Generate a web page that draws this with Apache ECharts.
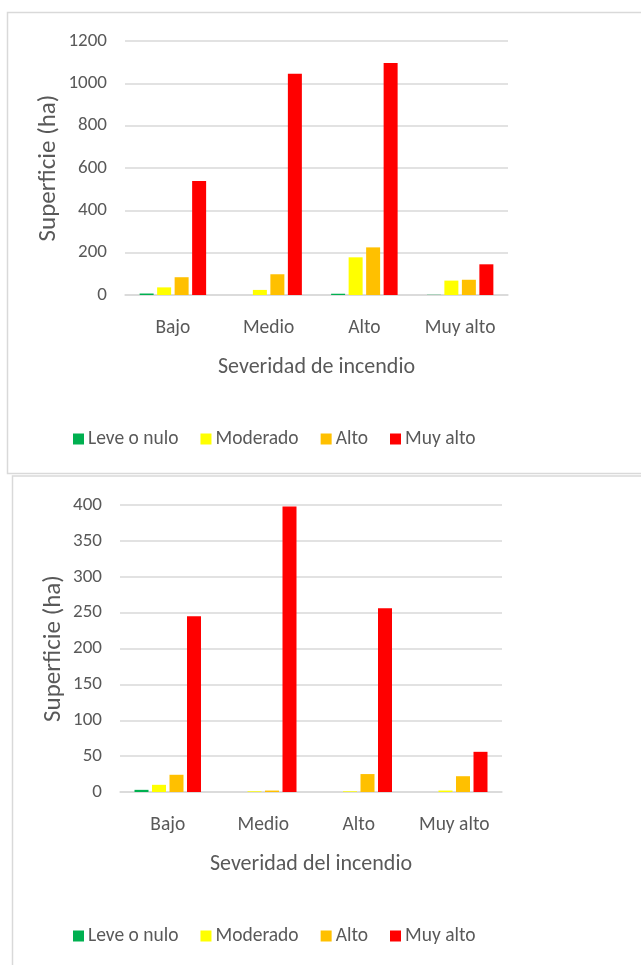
<!DOCTYPE html>
<html>
<head>
<meta charset="utf-8">
<script src="https://cdn.jsdelivr.net/npm/echarts@6/dist/echarts.min.js"></script>
<style>
  html, body { margin: 0; padding: 0; background: #ffffff; }
  #chart { width: 641px; height: 965px; }
</style>
</head>
<body>
<div id="chart"></div>
<script>
// Burned area (ha) by terrain class and fire severity
const categories = ['Bajo', 'Medio', 'Alto', 'Muy alto'];
const severityNames = ['Leve o nulo', 'Moderado', 'Alto', 'Muy alto'];
const severityColors = ['#00B050', '#FFFF00', '#FFC000', '#FF0000'];

// upper chart
const topLeve = [7, 0, 6, 1];
const topModerado = [36, 24, 178, 68];
const topAlto = [84, 98, 225, 72];
const topMuyAlto = [538, 1045, 1096, 145];
const topTicks = { min: 0, max: 1200, interval: 200 };
const topXTitle = 'Severidad de incendio';

// lower chart
const botLeve = [3, 0, 0, 0];
const botModerado = [10, 1, 1, 2];
const botAlto = [24, 2, 25, 22];
const botMuyAlto = [245, 398, 256, 56];
const botTicks = { min: 0, max: 400, interval: 50 };
const botXTitle = 'Severidad del incendio';

const yTitle = 'Superficie (ha)';

const FONT = 'Carlito, "Liberation Sans Narrow", "Open Sans", sans-serif';
const TEXT = '#595959';
const GRID = '#D9D9D9';

function xAxisFor(gridIndex, title) {
  return {
    type: 'category', gridIndex, data: categories,
    axisLine: { show: true, lineStyle: { color: GRID, width: 1.5 } },
    axisTick: { show: false },
    axisLabel: { color: TEXT, fontSize: 19.5, fontFamily: FONT, margin: 23 },
    name: title, nameLocation: 'middle', nameGap: 61, nameMoveOverlap: false,
    nameTextStyle: { color: TEXT, fontSize: 22, fontFamily: FONT }
  };
}
function yAxisFor(gridIndex, ticks, gap) {
  return {
    type: 'value', gridIndex, min: ticks.min, max: ticks.max, interval: ticks.interval,
    axisLine: { show: false }, axisTick: { show: false },
    splitLine: { lineStyle: { color: GRID, width: 1.5 } },
    axisLabel: { color: TEXT, fontSize: 19, fontFamily: FONT, margin: 18,
                 formatter: v => String(v) },
    name: yTitle, nameLocation: 'middle', nameGap: gap, nameRotate: 90,
    nameMoveOverlap: false,
    nameTextStyle: { color: TEXT, fontSize: 25, fontFamily: FONT }
  };
}
function barsFor(idx, sets) {
  return sets.map((vals, i) => ({
    type: 'bar', name: severityNames[i], xAxisIndex: idx, yAxisIndex: idx,
    data: vals, barWidth: 14, barGap: '25%',
    itemStyle: { color: severityColors[i] },
    emphasis: { disabled: true }
  }));
}
function legendFor(top) {
  return {
    top, left: 73, padding: 0, itemWidth: 11, itemHeight: 11, itemGap: 22,
    icon: 'rect', selectedMode: false,
    textStyle: { color: TEXT, fontSize: 19.5, fontFamily: FONT, padding: [0, 0, 0, -1] },
    data: severityNames
  };
}

const chart = echarts.init(document.getElementById('chart'), null, { renderer: 'canvas' });
chart.setOption({
  animation: false,
  backgroundColor: '#ffffff',
  color: severityColors,
  graphic: [
    { type: 'rect', shape: { x: 7.5, y: 12.5, width: 700, height: 461 },
      style: { fill: 'none', stroke: GRID, lineWidth: 1.5 }, z: -1 },
    { type: 'rect', shape: { x: 12.5, y: 476, width: 700, height: 600 },
      style: { fill: 'none', stroke: GRID, lineWidth: 1.5 }, z: -1 }
  ],
  grid: [
    { left: 125, right: 133, top: 41, bottom: 670 },
    { left: 120, right: 139, top: 505, bottom: 173 }
  ],
  xAxis: [xAxisFor(0, topXTitle), xAxisFor(1, botXTitle)],
  yAxis: [yAxisFor(0, topTicks, 64), yAxisFor(1, botTicks, 54)],
  legend: [legendFor(429), legendFor(926)],
  series: [
    ...barsFor(0, [topLeve, topModerado, topAlto, topMuyAlto]),
    ...barsFor(1, [botLeve, botModerado, botAlto, botMuyAlto])
  ]
});
</script>
</body>
</html>
